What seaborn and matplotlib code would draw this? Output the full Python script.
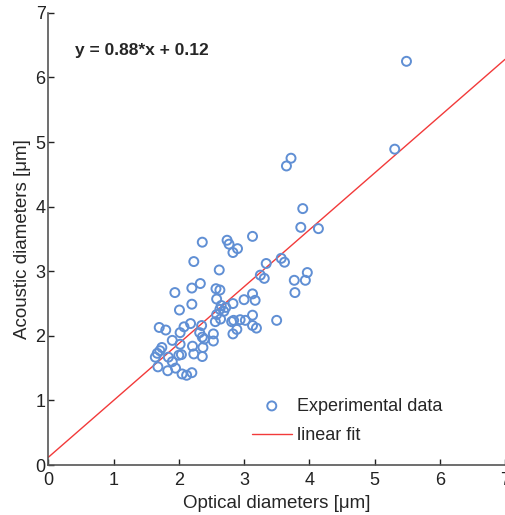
import numpy as np
import pandas as pd
import matplotlib
matplotlib.use("Agg")
import matplotlib.pyplot as plt
import seaborn as sns

optical = [2.36, 2.74, 2.77, 2.90, 2.83, 3.13, 2.23, 2.62, 3.34, 3.57,
           3.62, 3.25, 3.31, 3.77, 3.78, 1.94, 2.20, 2.33, 2.57, 2.63,
           2.58, 3.13, 3.00, 3.17, 2.83, 2.20, 2.01, 2.65, 2.63, 2.69,
           2.58, 2.64, 2.56, 3.13, 2.84, 2.94, 3.02, 3.19, 3.50, 2.89,
           2.83, 1.70, 1.80, 2.08, 2.18, 2.35, 2.02, 2.32, 2.36, 2.39,
           2.53, 2.53, 1.90, 2.02, 2.21, 2.37, 1.74, 1.71, 1.67, 1.64,
           1.84, 1.90, 2.00, 2.04, 2.23, 2.36, 1.68, 1.83, 1.95, 2.05,
           2.12, 2.20, 3.72, 3.65, 3.90, 3.87, 4.14, 3.97, 3.94, 5.31,
           5.49, 2.72, 2.81, 3.13]
acoustic = [3.45, 3.48, 3.42, 3.35, 3.29, 3.54, 3.15, 3.02, 3.12, 3.20,
            3.14, 2.94, 2.89, 2.86, 2.67, 2.67, 2.74, 2.81, 2.73, 2.71,
            2.57, 2.65, 2.56, 2.55, 2.50, 2.49, 2.40, 2.47, 2.41, 2.38,
            2.33, 2.26, 2.22, 2.32, 2.24, 2.25, 2.24, 2.12, 2.24, 2.10,
            2.03, 2.13, 2.09, 2.14, 2.19, 2.16, 2.05, 2.05, 1.98, 1.95,
            2.03, 1.92, 1.93, 1.87, 1.84, 1.82, 1.82, 1.77, 1.73, 1.67,
            1.67, 1.60, 1.70, 1.71, 1.72, 1.68, 1.52, 1.46, 1.50, 1.41,
            1.39, 1.43, 4.75, 4.63, 3.97, 3.68, 3.66, 2.98, 2.86, 4.89,
            6.25, 2.44, 2.22, 2.16]

# Linear fit parameters
slope = 0.88
intercept = 0.12
fit_x = [0, 7]

x_ticks = [0, 1, 2, 3, 4, 5, 6, 7]
y_ticks = [0, 1, 2, 3, 4, 5, 6, 7]

sns.set_style("ticks")
plt.rcParams["font.family"] = ["Liberation Sans", "DejaVu Sans"]

df = pd.DataFrame({"opt": optical, "aco": acoustic})
fit_df = pd.DataFrame({"x": fit_x, "y": [slope * v + intercept for v in fit_x]})

fig = plt.figure(figsize=(5.06, 5.15), dpi=100)
ax = fig.add_axes([0.0955, 0.097, 0.9025, 0.878])

sns.scatterplot(data=df, x="opt", y="aco", ax=ax, marker="o",
                facecolor="none", edgecolor="#608fd4", linewidth=1.4,
                s=42, label="Experimental data", zorder=3)
sns.lineplot(data=fit_df, x="x", y="y", ax=ax, color="#f23a3a",
             linewidth=1.0, label="linear fit", zorder=2)

ax.set_xlim(0, 7)
ax.set_ylim(0, 7)
ax.set_xticks(x_ticks)
ax.set_yticks(y_ticks)
ax.tick_params(direction="in", length=4, width=1, labelsize=13,
               colors="#222222")
ax.tick_params(axis="x", pad=5)
ax.tick_params(axis="y", pad=2)
for side in ["left", "bottom"]:
    ax.spines[side].set_color("#555555")
    ax.spines[side].set_linewidth(1.2)
ax.spines["top"].set_visible(False)
ax.spines["right"].set_visible(False)

ax.set_xlabel("Optical diameters [μm]", fontsize=13.5, labelpad=4)
ax.set_ylabel("Acoustic diameters [μm]", fontsize=13.5, labelpad=3)

ax.text(0.41, 6.41, f"y = {slope}*x + {intercept}", fontsize=12.5,
        fontweight="bold", va="center", ha="left")

leg = ax.legend(loc="upper left", bbox_to_anchor=(0.43, 0.165),
                frameon=False, fontsize=13, handlelength=2.2,
                handletextpad=0.3, labelspacing=0.7, borderaxespad=0)

fig.savefig("out.png", dpi=100)
